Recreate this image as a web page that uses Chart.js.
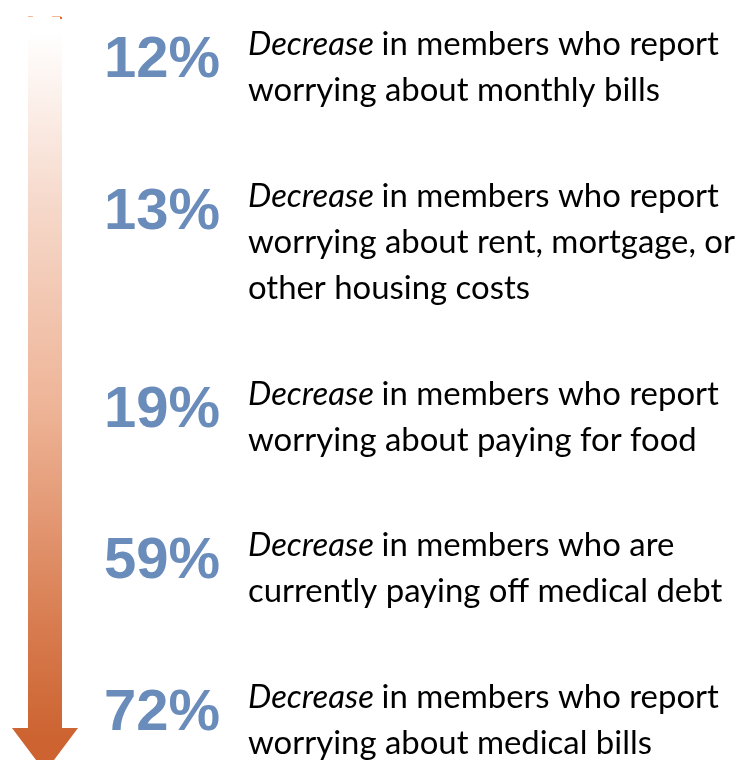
<!DOCTYPE html>
<html>
<head>
<meta charset="utf-8">
<script src="https://cdn.jsdelivr.net/npm/chart.js@4/dist/chart.umd.min.js"></script>
<style>
  html, body { margin: 0; padding: 0; background: #fff; }
  #wrap { width: 754px; height: 760px; }
</style>
</head>
<body>
<div id="wrap"><canvas id="infoChart" width="754" height="760"></canvas></div>
<script>
// values
const percents = [12, 13, 19, 59, 72];
const leadWord = 'Decrease';
const descriptions = [
    ['in members who report', 'worrying about monthly bills'],
    ['in members who report', 'worrying about rent, mortgage, or', 'other housing costs'],
    ['in members who report', 'worrying about paying for food'],
    ['in members who are', 'currently paying off medical debt'],
    ['in members who report', 'worrying about medical bills']
];

// each row starts after the lines of the rows above plus a gap (in line units)
const rowGap = 1.3;
const rowStarts = [];
let acc = 0;
descriptions.forEach(function (lines) {
    rowStarts.push(acc);
    acc += lines.length + rowGap;
});

const lineHeight = 46;
const firstBaseline = 55;
const H = 760;

const pctColor = '#6a8cbb';
const textFont = 'Lato, "Open Sans", sans-serif';

const infoPlugin = {
    id: 'info',
    beforeDatasetsDraw(chart) {
        const ctx = chart.ctx;
        ctx.save();
        // the arrow
        const g = ctx.createLinearGradient(0, 32, 0, 740);
        g.addColorStop(0, '#ffffff');
        g.addColorStop(0.24, '#f6d9cb');
        g.addColorStop(0.53, '#eeb497');
        g.addColorStop(0.85, '#d77a4d');
        g.addColorStop(1, '#cc6330');
        ctx.fillStyle = g;
        ctx.beginPath();
        ctx.moveTo(28, 32);
        ctx.lineTo(62, 32);
        ctx.lineTo(62, 728);
        ctx.lineTo(78, 728);
        ctx.lineTo(45, 772);
        ctx.lineTo(12, 728);
        ctx.lineTo(28, 728);
        ctx.closePath();
        ctx.fill();
        // little marks above the arrow
        ctx.fillStyle = '#f2b89b';
        ctx.fillRect(28, 16, 5, 1);
        ctx.fillRect(52, 16, 9, 1);
        ctx.fillStyle = '#e2642a';
        ctx.fillRect(60, 17, 2, 2);
        ctx.restore();
    },
    afterDatasetsDraw(chart) {
        const ctx = chart.ctx;
        const pts = chart.getDatasetMeta(0).data;
        ctx.save();
        // fit the description font to the reference line width
        ctx.font = '100px ' + textFont;
        const probe = ctx.measureText(leadWord + ' ' + descriptions[0][0]).width;
        const size = Math.round(100 * 480 / probe * 10) / 10;
        ctx.textBaseline = 'alphabetic';
        pts.forEach(function (pt, i) {
            const y = pt.y;
            ctx.fillStyle = pctColor;
            ctx.font = 'bold 58px "Liberation Sans", Arial, sans-serif';
            ctx.textAlign = 'left';
            ctx.fillText(percents[i] + '%', 104, y + 22);

            ctx.fillStyle = '#000000';
            ctx.font = 'italic ' + size + 'px ' + textFont;
            ctx.fillText(leadWord, 248, y);
            const w = ctx.measureText(leadWord + ' ').width;
            ctx.font = size + 'px ' + textFont;
            descriptions[i].forEach(function (line, k) {
                ctx.fillText(line, k === 0 ? 248 + w : 248, y + k * lineHeight);
            });
        });
        ctx.restore();
    }
};

const ctx = document.getElementById('infoChart').getContext('2d');
const chart = new Chart(ctx, {
    type: 'scatter',
    data: {
        datasets: [{
            data: percents.map(function (p, i) { return { x: 0, y: rowStarts[i] }; }),
            pointRadius: 0,
            pointHoverRadius: 0
        }]
    },
    options: {
        responsive: false,
        animation: false,
        layout: { padding: 0 },
        plugins: { legend: { display: false }, tooltip: { enabled: false } },
        scales: {
            x: { display: false, min: -1, max: 1 },
            y: {
                display: false,
                reverse: true,
                min: -firstBaseline / lineHeight,
                max: (H - firstBaseline) / lineHeight
            }
        }
    },
    plugins: [infoPlugin]
});
</script>
</body>
</html>
